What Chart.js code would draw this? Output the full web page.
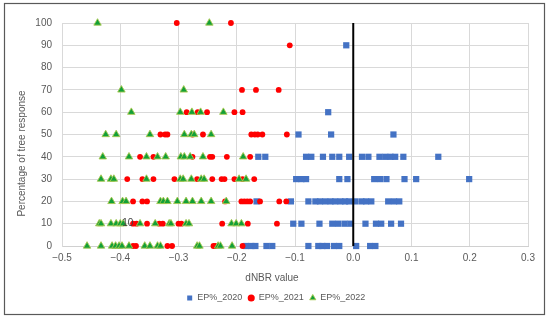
<!DOCTYPE html>
<html>
<head>
<meta charset="utf-8">
<title>dNBR vs tree response</title>
<script src="https://cdn.jsdelivr.net/npm/chart.js@4.4.0/dist/chart.umd.min.js"></script>
<style>
  html, body { margin: 0; padding: 0; background: #fff; }
  #wrap { position: relative; width: 550px; height: 321px; }
</style>
</head>
<body>
<div id="wrap"><canvas id="dnbrchart"></canvas></div>
<script>
// each row: [percentage of tree response, [dNBR values at that level]]
var ep2020 = [
    [90, [-0.012]],
    [60, [-0.043]],
    [50, [-0.094, -0.038, 0.069]],
    [40, [-0.163, -0.151, -0.081, -0.072, -0.052, -0.036, -0.024, -0.007, 0.015, 0.026, 0.045, 0.055, 0.064, 0.072, 0.086, 0.146]],
    [30, [-0.098, -0.089, -0.081, -0.024, -0.010, 0.036, 0.046, 0.057, 0.088, 0.108, 0.199]],
    [20, [-0.166, -0.107, -0.077, -0.065, -0.057, -0.048, -0.039, -0.031, -0.022, -0.014, -0.007, 0.003, 0.014, 0.022, 0.031, 0.060, 0.070, 0.079]],
    [10, [-0.103, -0.089, -0.058, -0.036, -0.026, -0.015, -0.005, 0.021, 0.039, 0.048, 0.065, 0.082]],
    [0,  [-0.184, -0.175, -0.168, -0.149, -0.139, -0.077, -0.060, -0.053, -0.045, -0.033, -0.024, 0.005, 0.029, 0.038]]
];

var ep2021 = [
    [100, [-0.303, -0.210]],
    [90,  [-0.109]],
    [70,  [-0.191, -0.167, -0.128]],
    [60,  [-0.286, -0.267, -0.251, -0.204, -0.190]],
    [50,  [-0.331, -0.323, -0.319, -0.276, -0.258, -0.175, -0.169, -0.164, -0.156, -0.114]],
    [40,  [-0.366, -0.343, -0.276, -0.246, -0.242, -0.217, -0.177]],
    [30,  [-0.388, -0.362, -0.343, -0.307, -0.268, -0.242, -0.226, -0.221, -0.204, -0.190, -0.170]],
    [20,  [-0.378, -0.362, -0.354, -0.220, -0.192, -0.187, -0.182, -0.177, -0.160, -0.127, -0.115]],
    [10,  [-0.378, -0.372, -0.354, -0.333, -0.327, -0.300, -0.295, -0.225, -0.181, -0.131]],
    [0,   [-0.378, -0.373, -0.319, -0.311, -0.240, -0.237, -0.190]]
];

var ep2022 = [
    [100, [-0.439, -0.247]],
    [70,  [-0.398, -0.291]],
    [60,  [-0.381, -0.297, -0.277, -0.262, -0.223]],
    [50,  [-0.425, -0.407, -0.349, -0.290, -0.278, -0.273, -0.244]],
    [40,  [-0.430, -0.385, -0.355, -0.336, -0.322, -0.296, -0.290, -0.280, -0.258, -0.189]],
    [30,  [-0.433, -0.416, -0.411, -0.355, -0.297, -0.292, -0.278, -0.261, -0.256, -0.196, -0.184]],
    [20,  [-0.415, -0.396, -0.390, -0.331, -0.326, -0.319, -0.302, -0.287, -0.276, -0.261, -0.244, -0.218]],
    [10,  [-0.436, -0.433, -0.416, -0.407, -0.400, -0.395, -0.366, -0.340, -0.316, -0.313, -0.287, -0.282, -0.209, -0.201, -0.192]],
    [0,   [-0.457, -0.433, -0.414, -0.408, -0.402, -0.397, -0.385, -0.358, -0.349, -0.336, -0.331, -0.268, -0.264, -0.232, -0.228, -0.208]]
];

var seriesNames = ['EP%_2020', 'EP%_2021', 'EP%_2022'];
var zeroLine = [[0, 0], [0, 100]];
var xTicks = [-0.5, -0.4, -0.3, -0.2, -0.1, 0, 0.1, 0.2, 0.3];
var yTicks = [0, 10, 20, 30, 40, 50, 60, 70, 80, 90, 100];
var xTitle = 'dNBR value';
var yTitle = 'Percentage of tree response';
var strayLabel = ['10', -0.387, 10];   // stray data label left in the original

var FONT = 'Liberation Sans';
var GREY = '#595959';

function toPoints(rows) {
    var pts = [];
    rows.forEach(function (r) {
        r[1].forEach(function (x) { pts.push({ x: x, y: r[0] }); });
    });
    return pts;
}

function tickText(v) {
    var s = Math.abs(v) < 1e-9 ? '0.0' : Number(v).toFixed(1);
    return s.replace('-', '\u2212');
}

// frame, axis titles and the stray label
var extras = {
    id: 'extras',
    beforeDraw: function (chart) {
        var c = chart.ctx;
        c.save();
        c.fillStyle = '#fff';
        c.fillRect(0, 0, chart.width, chart.height);
        c.strokeStyle = GREY;
        c.lineWidth = 1.2;
        c.strokeRect(4.5, 3.5, 540, 311);
        c.restore();
    },
    afterDraw: function (chart) {
        var c = chart.ctx;
        c.save();
        c.fillStyle = GREY;
        c.font = '10px "' + FONT + '"';
        c.textAlign = 'center';
        c.textBaseline = 'middle';
        c.fillText(xTitle, 272, 278);
        c.save();
        c.translate(22, 153.5);
        c.rotate(-Math.PI / 2);
        c.fillText(yTitle, 0, 0);
        c.restore();
        c.fillStyle = '#404040';
        c.fillText(strayLabel[0], chart.scales.x.getPixelForValue(strayLabel[1]), chart.scales.y.getPixelForValue(strayLabel[2]));
        c.restore();
    }
};

Chart.defaults.font.family = FONT;

var ctx = document.getElementById('dnbrchart');
var myChart = new Chart(ctx, {
    type: 'scatter',
    data: {
        datasets: [{
            label: seriesNames[0],
            data: toPoints(ep2020),
            pointStyle: 'rect',
            pointRadius: 4.4,
            pointHoverRadius: 4.4,
            backgroundColor: '#4472C4',
            borderColor: '#4472C4',
            borderWidth: 0,
            clip: false,
            order: 3
        }, {
            label: seriesNames[1],
            data: toPoints(ep2021),
            pointStyle: 'circle',
            pointRadius: 2.9,
            pointHoverRadius: 2.9,
            backgroundColor: '#FF0000',
            borderColor: '#FF0000',
            borderWidth: 0,
            clip: false,
            order: 2
        }, {
            label: seriesNames[2],
            data: toPoints(ep2022),
            pointStyle: 'triangle',
            pointRadius: 4.3,
            pointHoverRadius: 4.3,
            backgroundColor: '#12A037',
            borderColor: 'rgba(165, 200, 80, 0.9)',
            borderWidth: 1,
            clip: false,
            order: 1
        }, {
            label: 'zero',
            data: zeroLine.map(function (p) { return { x: p[0], y: p[1] }; }),
            showLine: true,
            pointRadius: 0,
            borderColor: '#000',
            borderWidth: 2,
            clip: false,
            order: 0
        }]
    },
    options: {
        responsive: true,
        maintainAspectRatio: false,
        animation: false,
        layout: { padding: { left: 24, right: 22, top: 23, bottom: 8.5 } },
        plugins: {
            tooltip: { enabled: false },
            legend: {
                position: 'bottom',
                labels: {
                    usePointStyle: true,
                    boxWidth: 6,
                    boxHeight: 5,
                    padding: 6,
                    color: GREY,
                    font: { size: 9 },
                    filter: function (item) { return item.datasetIndex < 3; },
                    sort: function (a, b) { return a.datasetIndex - b.datasetIndex; }
                }
            }
        },
        scales: {
            x: {
                type: 'linear',
                min: -0.5,
                max: 0.3,
                afterBuildTicks: function (s) { s.ticks = xTicks.map(function (v) { return { value: v }; }); },
                afterFit: function (s) { s.height = 41.5; },
                grid: { color: '#D9D9D9', drawTicks: false },
                border: { color: '#D0D0D0' },
                ticks: { padding: 6, color: GREY, font: { size: 10 }, maxRotation: 0, callback: tickText }
            },
            y: {
                min: 0,
                max: 100,
                afterBuildTicks: function (s) { s.ticks = yTicks.map(function (v) { return { value: v }; }); },
                afterFit: function (s) { s.width = 38; },
                grid: { color: '#D9D9D9', drawTicks: false },
                border: { color: '#D9D9D9' },
                ticks: { padding: 10, color: GREY, font: { size: 10 } }
            }
        }
    },
    plugins: [extras]
});
</script>
</body>
</html>
